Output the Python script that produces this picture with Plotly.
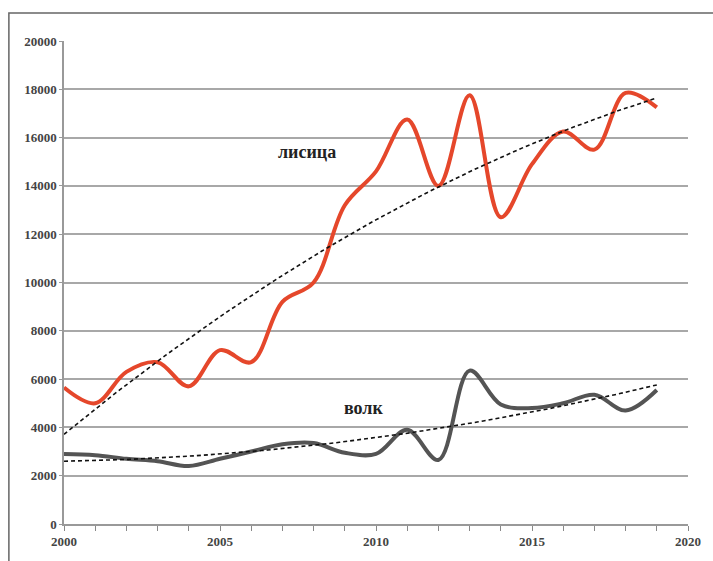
import numpy as np
import plotly.graph_objects as go

years = list(range(2000, 2020))
fox = [5650, 5000, 6300, 6700, 5700, 7200, 6700, 9200, 10000, 13200,
       14600, 16750, 14000, 17750, 12700, 14900, 16250, 15500, 17850, 17250]
wolf = [2900, 2850, 2700, 2600, 2400, 2700, 3000, 3300, 3350, 2950,
        2900, 3900, 2650, 6350, 4950, 4800, 5000, 5350, 4700, 5550]
labels = ["лисица", "волк"]
x_ticks = [2000, 2005, 2010, 2015, 2020]
y_ticks = list(range(0, 20001, 2000))

t = np.array(years, dtype=float) - years[0]
tt = np.linspace(t[0], t[-1], 100)
fox_fit = np.polyval(np.polyfit(t, fox, 2), tt)
wolf_fit = np.polyval(np.polyfit(t, wolf, 2), tt)
xx = tt + years[0]

fig = go.Figure()
fig.add_trace(go.Scatter(x=years, y=fox, mode="lines",
                         line=dict(color="#E5472B", width=4, shape="spline", smoothing=1.0)))
fig.add_trace(go.Scatter(x=years, y=wolf, mode="lines",
                         line=dict(color="#545454", width=4, shape="spline", smoothing=1.0)))
fig.add_trace(go.Scatter(x=xx, y=fox_fit, mode="lines",
                         line=dict(color="#111111", width=1.6, dash="4px,3px")))
fig.add_trace(go.Scatter(x=xx, y=wolf_fit, mode="lines",
                         line=dict(color="#111111", width=1.6, dash="4px,3px")))

serif = "Liberation Serif, Times New Roman, DejaVu Serif, serif"
font_tick = dict(family=serif, size=13, color="#444444")
fig.update_layout(
    width=713, height=561,
    margin=dict(l=64, r=15, t=41, b=36),
    paper_bgcolor="white", plot_bgcolor="white",
    showlegend=False,
    font=dict(family=serif),
    xaxis=dict(range=[2000, 2020], tickvals=x_ticks,
               ticktext=["<b>%d</b>" % v for v in x_ticks],
               ticks="outside", ticklen=5,
               tickcolor="#888888", showgrid=False, showline=True, linecolor="#999999",
               linewidth=1.5, tickfont=font_tick, zeroline=False,
               minor=dict(dtick=1, ticks="outside", ticklen=5, tickcolor="#888888", showgrid=False)),
    yaxis=dict(range=[0, 20000], tickvals=y_ticks,
               ticktext=["<b>%d</b>" % v for v in y_ticks],
               ticks="outside", ticklen=3,
               tickcolor="#999999", showgrid=True, gridcolor="#A8A8A8", gridwidth=1.5,
               showline=True, linecolor="#999999", linewidth=1.5, tickfont=font_tick,
               zeroline=False),
)
fig.add_annotation(x=2007.8, y=15400, text="<b>" + labels[0] + "</b>", showarrow=False,
                   font=dict(family=serif, size=18, color="#222222"))
fig.add_annotation(x=2009.6, y=4790, text="<b>" + labels[1] + "</b>", showarrow=False,
                   font=dict(family=serif, size=18, color="#222222"))
fig.add_shape(type="rect", xref="paper", yref="paper",
              x0=(8 - 64) / 634, x1=1.1, y0=-0.2, y1=(525 - 13) / 484,
              line=dict(color="#666666", width=1.5), fillcolor="rgba(0,0,0,0)", layer="below")
fig.write_html("out.html")
